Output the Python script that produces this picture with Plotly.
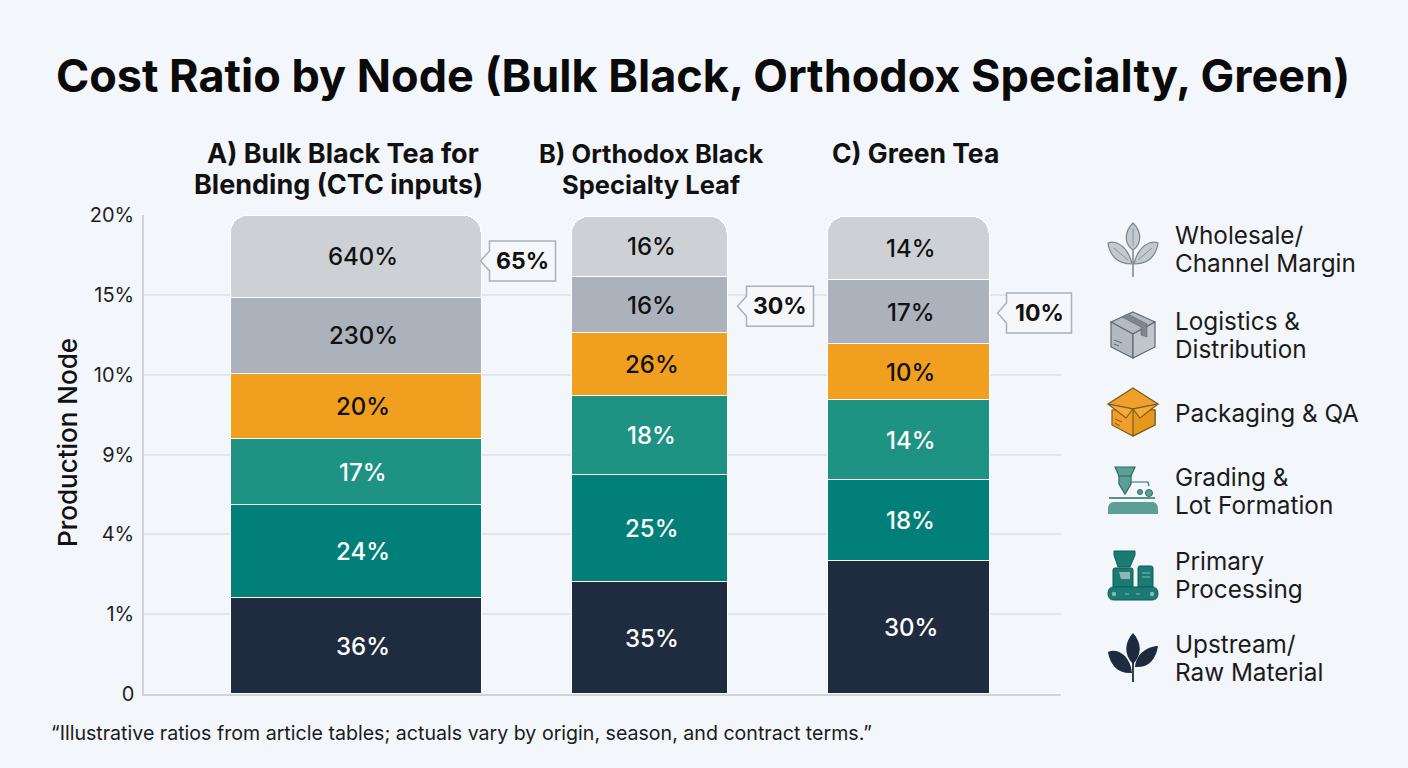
import re
import plotly.graph_objects as go

# Figure frame
W, H = 1408, 768
PLOT_L, PLOT_R, PLOT_T, PLOT_B = 144, 1061, 215, 694

# Tea categories, one list of header lines each
categories = [["A) Bulk Black Tea for", "Blending (CTC inputs)"],
              ["B) Orthodox Black", "Specialty Leaf"],
              ["C) Green Tea"]]
y_tick_labels = ["0", "1%", "4%", "9%", "10%", "15%", "20%"]

# Cost layers, bottom of the stack first
layer_names = ["Upstream/Raw Material", "Primary Processing", "Grading & Lot Formation",
               "Packaging & QA", "Logistics & Distribution", "Wholesale/Channel Margin"]

# Segment heights read against the axis, one list per cost layer
upstream = [1.20, 1.40, 1.67]
primary = [1.165, 1.34, 1.01]
grading = [0.83, 0.99, 1.00]
packaging = [0.815, 0.79, 0.70]
logistics = [0.95, 0.70, 0.81]
wholesale = [1.03, 0.76, 0.79]

# Printed segment labels
upstream_labels = ["36%", "35%", "30%"]
primary_labels = ["24%", "25%", "18%"]
grading_labels = ["17%", "18%", "14%"]
packaging_labels = ["20%", "26%", "10%"]
logistics_labels = ["230%", "16%", "17%"]
wholesale_labels = ["640%", "16%", "14%"]

callout_labels = ["65%", "30%", "10%"]

heights = [upstream, primary, grading, packaging, logistics, wholesale]
labels = [upstream_labels, primary_labels, grading_labels,
          packaging_labels, logistics_labels, wholesale_labels]

# Styling
layer_colors = ["#1f2c40", "#017f78", "#1e9283", "#f0a01e", "#abb2bb", "#cdd1d6"]
label_colors = ["#ffffff", "#ffffff", "#ffffff", "#111111", "#111111", "#111111"]
FONT = "Inter"
INK = "#111111"
BG = "#f3f6fa"
GRID = "#e2e5ea"
AXIS = "#cfd4da"

# Bar geometry along the x axis, whose units are pixels from the left of the plot
bar_centers = [212, 505.5, 764.5]
bar_widths = [251, 156, 162]
label_shift = [7, 2, 2]
header_x = [[343, 338], [651, 651], [915]]
header_size = [27, 25.5, 26.5]
HEADER_TOP = 153
HEADER_LEADING = 31
callout_layer = [5, 4, 4]
callout_shift = [4, 1, 1]
callout_gap = [6, 17, 15]
callout_size = [(66, 40), (67, 40), (65, 40)]

fig = go.Figure()

for i, name in enumerate(layer_names):
    fig.add_trace(go.Bar(
        x=bar_centers, y=heights[i], width=bar_widths, name=name,
        marker=dict(color=layer_colors[i], line=dict(color="#ffffff", width=1.5), cornerradius=18),
        showlegend=False, hoverinfo="name+text", hovertext=labels[i],
    ))

annotations = []
shapes = []


def py(value):
    """Pixel row of an axis value."""
    return PLOT_B - value * (PLOT_B - PLOT_T) / 6


def path(d):
    """Turn a path in page pixels into one in paper coordinates."""
    out, is_x = [], True
    for tok in re.findall(r"[MLCQZ]|-?\d+\.?\d*", d):
        if tok in "MLCQZ":
            out.append(tok)
            is_x = True
        elif is_x:
            out.append(f"{float(tok) / W:.5f}")
            is_x = False
        else:
            out.append(f"{1 - float(tok) / H:.5f}")
            is_x = True
    return " ".join(out)


def draw(d, fill="rgba(0,0,0,0)", line=None, lw=1.0):
    shapes.append(dict(type="path", xref="paper", yref="paper", path=path(d), fillcolor=fill,
                       line=dict(color=line or "rgba(0,0,0,0)", width=lw if line else 0),
                       layer="above"))


def circle(cx, cy, r, fill, line=None, lw=1.0):
    shapes.append(dict(type="circle", xref="paper", yref="paper",
                       x0=(cx - r) / W, x1=(cx + r) / W, y0=1 - (cy + r) / H, y1=1 - (cy - r) / H,
                       fillcolor=fill, line=dict(color=line or "rgba(0,0,0,0)", width=lw if line else 0),
                       layer="above"))


def text(x, y, s, size, anchor="center", color=INK, ref="paper", weight=400, angle=0):
    annotations.append(dict(
        x=x / W if ref == "paper" else x, y=1 - y / H if ref == "paper" else y,
        xref=ref if ref == "paper" else "x", yref=ref if ref == "paper" else "y",
        text=s, showarrow=False, xanchor=anchor, yanchor="middle", textangle=angle,
        font=dict(family=FONT, size=size, color=color, weight=weight)))


# Segment labels sit at the middle of their stacked segment
for g in range(len(categories)):
    base = 0.0
    for i in range(len(layer_names)):
        value = heights[i][g]
        text(bar_centers[g] + label_shift[g], base + value / 2, labels[i][g], 24,
             color=label_colors[i], ref="data", weight=500)
        base += value

# Column headers
for g, lines in enumerate(categories):
    for n, line in enumerate(lines):
        text(header_x[g][n], HEADER_TOP + n * HEADER_LEADING, line, header_size[g], weight=700)

# Vertical axis caption, centred a little above the middle of the plot
text(67, 443, "Production Node", 26, weight=500, angle=-90)

# Notched callouts beside each bar, aligned with the layer they refer to
for g, label in enumerate(callout_labels):
    layer = callout_layer[g]
    mid = sum(heights[i][g] for i in range(layer)) + heights[layer][g] / 2
    cy = py(mid) + callout_shift[g]
    tip = PLOT_L + bar_centers[g] + bar_widths[g] / 2 - 1 + callout_gap[g] - 6
    left = tip + 9
    w, h = callout_size[g]
    draw(f"M{tip} {cy} L{left} {cy - 10} L{left} {cy - h / 2} L{left + w} {cy - h / 2} "
         f"L{left + w} {cy + h / 2} L{left} {cy + h / 2} L{left} {cy + 10} Z",
         fill="#f5f7fa", line="#a9b1b9", lw=1.5)
    text(left + w / 2, cy, label, 23, weight=700)

# Key text, one line per annotation to hold the line spacing
key_lines = [("Wholesale/", 235), ("Channel Margin", 263), ("Logistics &", 321),
             ("Distribution", 349), ("Packaging & QA", 413), ("Grading &", 477),
             ("Lot Formation", 505), ("Primary", 561), ("Processing", 589),
             ("Upstream/", 644), ("Raw Material", 672)]
for s, y in key_lines:
    text(1173, y, s, 24.3, anchor="left", color="#1b1b1b")

# Key icon: pale sprig
sprig = "#c4c9cf"
sprig_edge = "#7d858e"
draw("M1133 240 L1133 277", line=sprig_edge, lw=1.5)
draw("M1133 223 C1124 232 1124 244 1133 250 C1142 244 1142 232 1133 223 Z", sprig, sprig_edge, 1.2)
draw("M1108 243 C1116 240 1128 246 1132 264 C1118 264 1110 256 1108 243 Z", sprig, sprig_edge, 1.2)
draw("M1158 243 C1150 240 1138 246 1134 264 C1148 264 1156 256 1158 243 Z", sprig, sprig_edge, 1.2)
draw("M1133 228 L1133 246", line=sprig_edge, lw=0.8)
draw("M1114 248 L1128 260", line=sprig_edge, lw=0.8)
draw("M1152 248 L1138 260", line=sprig_edge, lw=0.8)

# Key icon: grey parcel
edge = "#5f6772"
draw("M1133 312 L1155 322 L1133 334 L1111 322 Z", "#b4bac2", edge, 1.2)
draw("M1111 322 L1133 334 L1133 358 L1111 347 Z", "#b3b9c1", edge, 1.2)
draw("M1155 322 L1133 334 L1133 358 L1155 347 Z", "#c1c6cc", edge, 1.2)
draw("M1122 317 L1128 314 L1147 324 L1147 337 L1141 335 L1141 327 Z", "#7f868f", edge, 0.6)
draw("M1114 340 L1122 343 M1114 344 L1119 346", line=edge, lw=1)

# Key icon: open orange carton
box = "#f0a02a"
box_edge = "#7a5a20"
draw("M1133 388 L1158 404 L1133 409 L1108 404 Z", box, box_edge, 1.2)
draw("M1112 410 L1133 409 L1155 410 L1155 425 L1133 436 L1112 425 Z", box, box_edge, 1.2)
draw("M1155 410 L1133 409 L1133 436 L1155 425 Z", "#e8971d", box_edge, 1.2)
draw("M1108 404 L1133 409 L1126 418 Z", "#f4ab35", box_edge, 1.2)
draw("M1158 404 L1133 409 L1140 418 Z", "#f4ab35", box_edge, 1.2)
draw("M1115 419 L1122 422 M1115 423 L1120 426", line=box_edge, lw=1)

# Key icon: grading hopper over a lot bed
teal_soft = "#5d9e96"
teal_edge = "#2c6e68"
draw("M1115 467 L1135 467 L1131 476 L1131 484 L1125 494 L1119 484 L1119 476 Z", teal_soft, teal_edge, 1.2)
draw("M1118 476 L1132 476", line=teal_edge, lw=1.2)
draw("M1130 482 L1148 482 L1149 486", line=teal_edge, lw=1.2)
circle(1140, 492, 2.5, teal_soft, teal_edge)
circle(1149, 493, 3.5, teal_soft, teal_edge)
draw("M1109 498 L1155 498", line=teal_edge, lw=1.5)
draw("M1113 502 L1153 502 Q1158 503 1158 509 L1158 514 L1108 514 L1108 509 Q1108 503 1113 502 Z", teal_soft)

# Key icon: processing machine on a conveyor
machine = "#1a7a74"
machine_edge = "#0e5d58"
light = "#8fb7b4"
draw("M1114 551 L1135 551 L1135 555 L1130 567 L1118 567 L1114 555 Z", machine, machine_edge, 1)
draw("M1115 568 L1131 568 Q1133 568 1133 570 L1133 587 L1113 587 L1113 570 Q1113 568 1115 568 Z", machine, machine_edge, 1)
draw("M1140 566 L1151 566 Q1153 566 1153 568 L1153 587 L1138 587 L1138 568 Q1138 566 1140 566 Z", machine, machine_edge, 1)
draw("M1119 572 L1130 572 L1130 579 L1121 579 Z", light)
draw("M1142 573 L1150 573 M1142 577 L1150 577", line=light, lw=1)
draw("M1114 587 L1152 587 Q1158 587 1158 593.5 Q1158 600 1152 600 L1114 600 Q1108 600 1108 593.5 Q1108 587 1114 587 Z", machine, machine_edge, 1)
circle(1114, 594, 2.2, light)
circle(1152, 594, 2.2, light)
draw("M1125 594 L1129 594 M1136 594 L1140 594", line=light, lw=1)

# Key icon: dark sprig
navy = "#1e2b3f"
draw("M1133 660 L1133 682", line=navy, lw=1.8)
draw("M1133 633 C1124 643 1124 655 1133 664 C1142 655 1142 643 1133 633 Z", navy)
draw("M1108 652 C1116 648 1130 654 1132 673 C1118 674 1110 665 1108 652 Z", navy)
draw("M1158 646 C1150 646 1136 652 1135 667 C1148 668 1156 660 1158 646 Z", navy)

# Footnote
text(49, 733, "“Illustrative ratios from article tables; actuals vary by origin, season, and contract terms.”",
     19.6, anchor="left", color="#1b1b1b")

fig.update_layout(
    width=W, height=H, barmode="stack", bargap=0,
    margin=dict(l=0, r=0, t=0, b=0, autoexpand=False),
    paper_bgcolor=BG, plot_bgcolor="rgba(0,0,0,0)",
    font=dict(family=FONT, color=INK),
    title=dict(text="<b>Cost Ratio by Node (Bulk Black, Orthodox Specialty, Green)</b>",
               x=0.4993, y=1 - 76 / H, xanchor="center", yanchor="middle",
               font=dict(family=FONT, size=45, color="#0a0a0a")),
    xaxis=dict(domain=[PLOT_L / W, PLOT_R / W], range=[0, PLOT_R - PLOT_L], showgrid=False,
               showticklabels=False, zeroline=False, showline=True, linecolor=AXIS, linewidth=1.5,
               ticks="", automargin=False),
    yaxis=dict(domain=[1 - PLOT_B / H, 1 - PLOT_T / H], range=[0, 6],
               tickvals=list(range(len(y_tick_labels))), ticktext=y_tick_labels,
               tickfont=dict(family=FONT, size=20, color="#1f1f1f"),
               ticks="", ticklabelstandoff=4, showgrid=True, gridcolor=GRID, gridwidth=1.5,
               zeroline=False, showline=True, linecolor=AXIS, linewidth=1.5, automargin=False),
    annotations=annotations, shapes=shapes, hovermode="closest",
)

fig.write_html("out.html")
